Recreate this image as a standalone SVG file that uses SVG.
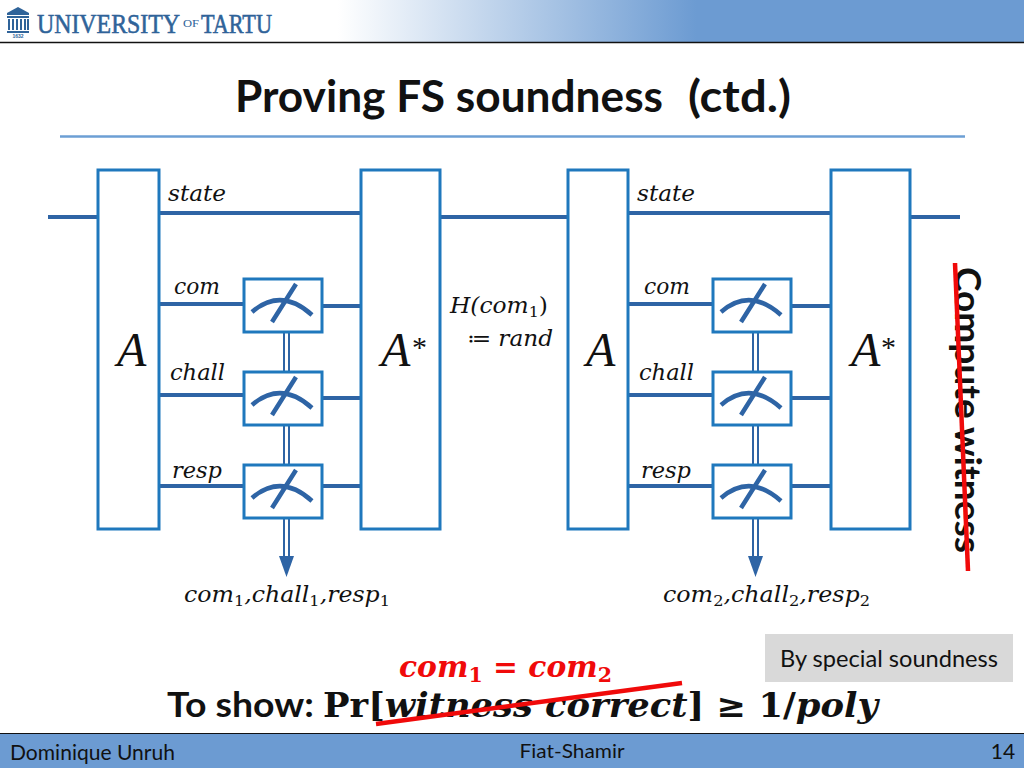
<svg xmlns="http://www.w3.org/2000/svg" width="1024" height="768" viewBox="0 0 1024 768">
<style>
.box{fill:#fff;stroke:#1f78bd;stroke-width:3}
.wire{stroke:#2e64a5;stroke-width:4;fill:none}
.dbl{stroke:#2e64a5;stroke-width:2;fill:none}
.needle{stroke:#2e64a5;stroke-width:4.500;fill:none}
.m{font-family:"DejaVu Serif",serif;font-style:italic;fill:#111;font-size:22px}
.s{font-style:normal;font-size:15px}
.mb{font-family:"DejaVu Serif",serif;font-style:italic;font-weight:bold;font-size:33px;fill:#111}
.r{font-style:normal}
.big{font-family:"Liberation Serif",serif;font-style:italic;fill:#111;font-size:48px}
.star{font-family:"Liberation Serif",serif;font-size:30px;fill:#111}
.sans{font-family:Lato,"Noto Sans",sans-serif;fill:#111}
.strike{stroke:#f00a0a;stroke-width:4.500;fill:none}
</style>
<defs>
<linearGradient id="hdr" x1="0" x2="1" y1="0" y2="0"><stop offset="0.33" stop-color="#fff"/><stop offset="0.68" stop-color="#6c9bd2"/></linearGradient>
<g id="meter"><rect class="box" x="0" y="0" width="78" height="53"/><path class="needle" d="M8 33Q37 8 68 36M28 43L52 5"/></g>
</defs>
<rect width="1024" height="768" fill="#fff"/>
<g id="header">
<rect width="1024" height="42" fill="url(#hdr)"/>
<path d="M0 42.500H1024" stroke="#111" stroke-width="1.500"/>
<g id="logo" fill="#2f6399" stroke="#2f6399" stroke-width="0">
<path d="M7 13L18 7L29 13V15H7Z"/><rect x="7" y="16" width="22" height="2"/>
<path d="M8 19h2v11h-2zM12 19h2v11h-2zM16 19h2v11h-2zM20 19h2v11h-2zM24 19h2v11h-2zM27 19h2v11h-2z"/><rect x="7" y="31" width="22" height="2"/>
<text x="18" y="38" font-family="Liberation Sans,sans-serif" font-size="5" font-weight="bold" text-anchor="middle">1632</text>
<text x="37" y="33" stroke-width="0.600" font-family="Liberation Serif,serif" font-size="28" textLength="143" lengthAdjust="spacingAndGlyphs">UNIVERSITY</text>
<text x="183" y="27" font-family="Liberation Serif,serif" font-size="10" textLength="16" lengthAdjust="spacingAndGlyphs">OF</text>
<text x="201" y="33" stroke-width="0.600" font-family="Liberation Serif,serif" font-size="28" textLength="71" lengthAdjust="spacingAndGlyphs">TARTU</text>
</g>
</g>
<text id="title" class="sans" y="112" font-size="44" font-weight="bold"><tspan x="235" textLength="428" lengthAdjust="spacingAndGlyphs">Proving FS soundness</tspan><tspan x="688" textLength="103" lengthAdjust="spacingAndGlyphs">(ctd.)</tspan></text>
<path id="rule" d="M60 136.500H965" stroke="#6c9fd4" stroke-width="2.500"/>
<g id="connectors">
<path class="wire" d="M48 217H98M159 213H361M440 217H568M628 213H831M910 217H960"/>
<path class="wire" d="M159 304H243M322 306H361M159 395H243M322 398H361M159 486H243M322 486H361"/>
<path class="wire" d="M628 304H712M791 306H830M628 395H712M791 398H830M628 486H712M791 486H830"/>
<path class="dbl" d="M284 332V372M289 332V372M284 425V465M289 425V465M284 518V558M289 518V558"/>
<path class="dbl" d="M753 332V372M758 332V372M753 425V465M758 425V465M753 518V558M758 518V558"/>
<path d="M279 556H294L286.500 577Z" fill="#2e64a5"/>
<path d="M748 556H763L755.500 577Z" fill="#2e64a5"/>
</g>
<g id="node-a1"><rect class="box" x="98" y="170" width="61" height="359"/><text class="big" x="117" y="366">A</text></g>
<g id="node-astar1"><rect class="box" x="361" y="170" width="79" height="359"/><text class="big" x="381" y="366">A</text><text class="star" x="412" y="357">*</text></g>
<g id="node-a2"><rect class="box" x="568" y="170" width="60" height="359"/><text class="big" x="586" y="366">A</text></g>
<g id="node-astar2"><rect class="box" x="831" y="170" width="79" height="359"/><text class="big" x="851" y="366">A</text><text class="star" x="881" y="357">*</text></g>
<g id="meter1"><use href="#meter" x="244" y="279"/></g>
<g id="meter2"><use href="#meter" x="244" y="372"/></g>
<g id="meter3"><use href="#meter" x="244" y="465"/></g>
<g id="meter4"><use href="#meter" x="713" y="279"/></g>
<g id="meter5"><use href="#meter" x="713" y="372"/></g>
<g id="meter6"><use href="#meter" x="713" y="465"/></g>
<g id="labels">
<text class="m" x="168" y="201" textLength="58" lengthAdjust="spacingAndGlyphs">state</text>
<text class="m" x="174" y="294" textLength="46" lengthAdjust="spacingAndGlyphs">com</text>
<text class="m" x="170" y="380" textLength="55" lengthAdjust="spacingAndGlyphs">chall</text>
<text class="m" x="172" y="478" textLength="50" lengthAdjust="spacingAndGlyphs">resp</text>
<text class="m" x="637" y="201" textLength="58" lengthAdjust="spacingAndGlyphs">state</text>
<text class="m" x="644" y="294" textLength="46" lengthAdjust="spacingAndGlyphs">com</text>
<text class="m" x="639" y="380" textLength="55" lengthAdjust="spacingAndGlyphs">chall</text>
<text class="m" x="641" y="478" textLength="50" lengthAdjust="spacingAndGlyphs">resp</text>
<text class="m" x="450" y="313" textLength="98" lengthAdjust="spacingAndGlyphs">H(com<tspan class="s" dy="4">1</tspan><tspan dy="-4" class="r">)</tspan></text>
<text class="m" x="467" y="346" textLength="86" lengthAdjust="spacingAndGlyphs">≔ rand</text>
<text class="m" x="184" y="602" textLength="206" lengthAdjust="spacingAndGlyphs">com<tspan class="s" dy="4">1</tspan><tspan dy="-4">,chall</tspan><tspan class="s" dy="4">1</tspan><tspan dy="-4">,resp</tspan><tspan class="s" dy="4">1</tspan></text>
<text class="m" x="663" y="602" textLength="207" lengthAdjust="spacingAndGlyphs">com<tspan class="s" dy="4">2</tspan><tspan dy="-4">,chall</tspan><tspan class="s" dy="4">2</tspan><tspan dy="-4">,resp</tspan><tspan class="s" dy="4">2</tspan></text>
</g>
<text id="compute" class="sans" font-size="36" font-weight="bold" transform="translate(955 267) rotate(90)" textLength="286" lengthAdjust="spacingAndGlyphs">Compute witness</text>
<path class="strike" d="M955 263L968 571"/>
<g id="note"><rect x="765" y="634" width="248" height="48" fill="#d9d9d9"/><text class="sans" x="889" y="667" font-size="24" text-anchor="middle" textLength="218" lengthAdjust="spacingAndGlyphs">By special soundness</text></g>
<text id="eq" class="mb" x="399" y="677" style="fill:#f00a0a;font-size:29px" textLength="213" lengthAdjust="spacingAndGlyphs">com<tspan class="r" font-size="20" dy="5">1</tspan><tspan dy="-5" class="r"> = </tspan>com<tspan class="r" font-size="20" dy="5">2</tspan></text>
<g id="formula">
<text class="sans" x="167" y="717" font-size="34" font-weight="bold" textLength="147" lengthAdjust="spacingAndGlyphs">To show:</text>
<text class="mb" x="323" y="717" textLength="555" lengthAdjust="spacingAndGlyphs"><tspan class="r">Pr[</tspan>witness correct<tspan class="r">] ≥ 1/</tspan>poly</text>
</g>
<path class="strike" d="M376 724L682 683"/>
<g id="footer">
<rect y="733" width="1024" height="35" fill="#6c9bd2"/>
<path d="M0 733.500H1024" stroke="#111" stroke-width="1.200"/>
<text class="sans" x="10" y="760" font-size="22" textLength="165" lengthAdjust="spacingAndGlyphs">Dominique Unruh</text>
<text class="sans" x="572" y="758" font-size="20" text-anchor="middle" textLength="105" lengthAdjust="spacingAndGlyphs">Fiat-Shamir</text>
<text class="sans" x="1003" y="759" font-size="21" text-anchor="middle">14</text>
</g>
</svg>
